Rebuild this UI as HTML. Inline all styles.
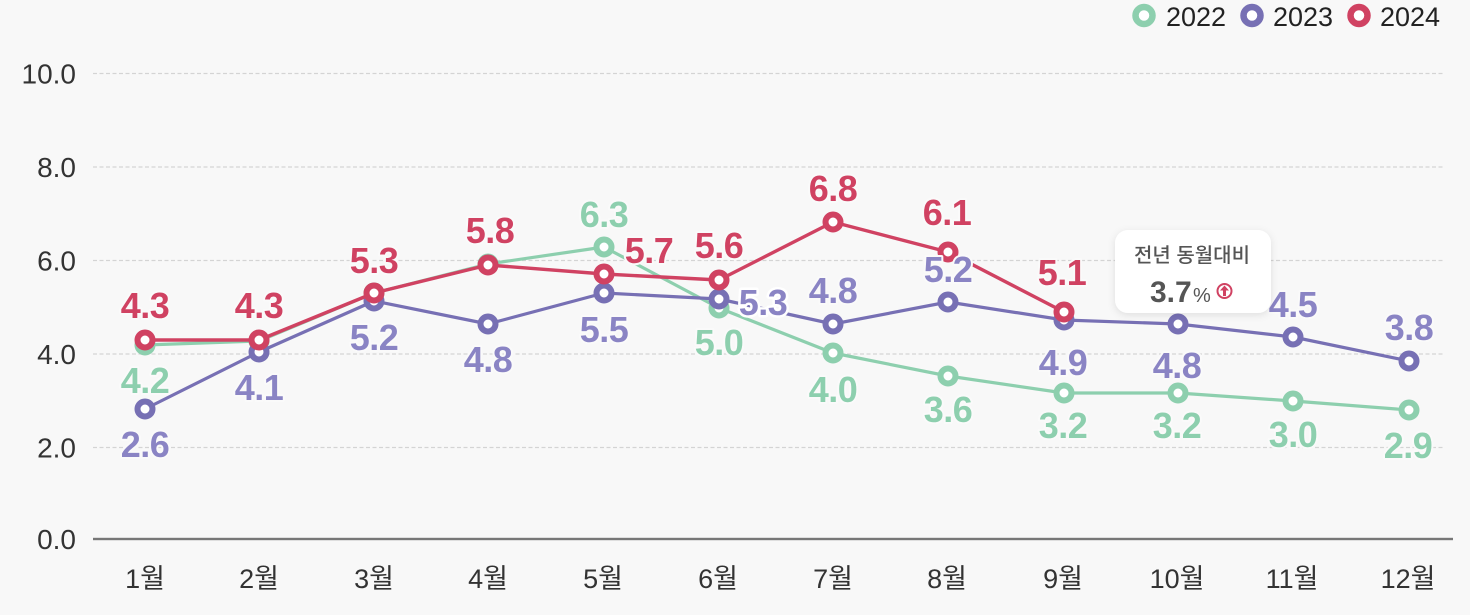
<!DOCTYPE html>
<html>
<head>
<meta charset="utf-8">
<style>
html,body{margin:0;padding:0;background:#f8f8f8;}
svg{display:block;}
.lbl{font-family:"Liberation Sans","Noto Sans CJK KR",sans-serif;font-weight:bold;font-size:36px;letter-spacing:-0.5px;text-anchor:middle;stroke:#fafafa;stroke-width:4px;paint-order:stroke fill;stroke-linejoin:round;}
.r{fill:#d04262;}
.p{fill:#8a84c4;}
.g{fill:#8dcfae;}
.ax{font-family:"Liberation Sans","Noto Sans CJK KR",sans-serif;fill:#333;}
</style>
</head>
<body>
<svg width="1470" height="615" viewBox="0 0 1470 615" xmlns="http://www.w3.org/2000/svg">
<defs>
<filter id="sh" x="-20%" y="-20%" width="140%" height="150%">
<feDropShadow dx="0" dy="2" stdDeviation="4" flood-color="#000" flood-opacity="0.10"/>
</filter>
</defs>
<rect width="1470" height="615" fill="#f8f8f8"/>

<!-- gridlines -->
<g stroke="#d4d4d4" stroke-width="1.2" stroke-dasharray="4 2.5">
<line x1="93" y1="73.5" x2="1443" y2="73.5"/>
<line x1="93" y1="167" x2="1443" y2="167"/>
<line x1="93" y1="260.5" x2="1443" y2="260.5"/>
<line x1="93" y1="354" x2="1443" y2="354"/>
<line x1="93" y1="447.5" x2="1443" y2="447.5"/>
</g>
<rect x="93" y="537.8" width="1360" height="2.4" fill="#777"/>

<!-- y labels -->
<g class="ax" font-size="28" text-anchor="end">
<text x="76" y="83.5">10.0</text>
<text x="76" y="177">8.0</text>
<text x="76" y="270.5">6.0</text>
<text x="76" y="364">4.0</text>
<text x="76" y="457.5">2.0</text>
<text x="76" y="549">0.0</text>
</g>

<!-- x labels -->
<g class="ax" font-size="27" text-anchor="middle">
<text x="145" y="588">1월</text>
<text x="259" y="588">2월</text>
<text x="374" y="588">3월</text>
<text x="488" y="588">4월</text>
<text x="603" y="588">5월</text>
<text x="718" y="588">6월</text>
<text x="833" y="588">7월</text>
<text x="947" y="588">8월</text>
<text x="1063" y="588">9월</text>
<text x="1177" y="588">10월</text>
<text x="1292" y="588">11월</text>
<text x="1408" y="588">12월</text>
</g>

<!-- 2022 green -->
<polyline fill="none" stroke="#8dcfae" stroke-width="3.2" stroke-linejoin="round"
 points="145,345 259,341 374,293 488,264 604,247 719,308 833,353 948,376 1064,393 1178,393 1293,401 1409,410"/>
<g fill="#fff" stroke="#8dcfae" stroke-width="6">
<circle cx="145" cy="345" r="7.5"/><circle cx="259" cy="341" r="7.5"/><circle cx="374" cy="293" r="7.5"/>
<circle cx="488" cy="264" r="7.5"/><circle cx="604" cy="247" r="7.5"/><circle cx="719" cy="308" r="7.5"/>
<circle cx="833" cy="353" r="7.5"/><circle cx="948" cy="376" r="7.5"/><circle cx="1064" cy="393" r="7.5"/>
<circle cx="1178" cy="393" r="7.5"/><circle cx="1293" cy="401" r="7.5"/><circle cx="1409" cy="410" r="7.5"/>
</g>

<!-- 2023 purple -->
<polyline fill="none" stroke="#7770b4" stroke-width="3.2" stroke-linejoin="round"
 points="145,409 259,352 374,301 488,324 604,293 719,299 833,324 948,302 1064,320 1178,324 1293,337 1409,361"/>
<g fill="#fff" stroke="#7770b4" stroke-width="6">
<circle cx="145" cy="409" r="7.5"/><circle cx="259" cy="352" r="7.5"/><circle cx="374" cy="301" r="7.5"/>
<circle cx="488" cy="324" r="7.5"/><circle cx="604" cy="293" r="7.5"/><circle cx="719" cy="299" r="7.5"/>
<circle cx="833" cy="324" r="7.5"/><circle cx="948" cy="302" r="7.5"/><circle cx="1064" cy="320" r="7.5"/>
<circle cx="1178" cy="324" r="7.5"/><circle cx="1293" cy="337" r="7.5"/><circle cx="1409" cy="361" r="7.5"/>
</g>

<!-- 2024 red -->
<polyline fill="none" stroke="#d04262" stroke-width="3.4" stroke-linejoin="round"
 points="145,340 259,340 374,293 488,265 604,274 719,280 833,222 948,252 1064,312"/>
<g fill="#fff" stroke="#d04262" stroke-width="6">
<circle cx="145" cy="340" r="7.5"/><circle cx="259" cy="340" r="7.5"/><circle cx="374" cy="293" r="7.5"/>
<circle cx="488" cy="265" r="7.5"/><circle cx="604" cy="274" r="7.5"/><circle cx="719" cy="280" r="7.5"/>
<circle cx="833" cy="222" r="7.5"/><circle cx="948" cy="252" r="7.5"/><circle cx="1064" cy="312" r="7.5"/>
</g>

<!-- green labels -->
<g class="lbl g">
<text x="145" y="393">4.2</text>
<text x="604" y="227">6.3</text>
<text x="719" y="355">5.0</text>
<text x="833" y="402">4.0</text>
<text x="948" y="422">3.6</text>
<text x="1063" y="438">3.2</text>
<text x="1177" y="438">3.2</text>
<text x="1293" y="447">3.0</text>
<text x="1408" y="458">2.9</text>
</g>
<!-- purple labels -->
<g class="lbl p">
<text x="145" y="457">2.6</text>
<text x="259" y="400">4.1</text>
<text x="374" y="350">5.2</text>
<text x="488" y="372">4.8</text>
<text x="604" y="342">5.5</text>
<text x="763" y="315" style="stroke:#fff;stroke-width:5px">5.3</text>
<text x="833" y="303">4.8</text>
<text x="948" y="282">5.2</text>
<text x="1063" y="375">4.9</text>
<text x="1177" y="378">4.8</text>
<text x="1293" y="317">4.5</text>
<text x="1409" y="340">3.8</text>
</g>
<!-- red labels -->
<g class="lbl r">
<text x="145" y="318">4.3</text>
<text x="259" y="318">4.3</text>
<text x="374" y="273">5.3</text>
<text x="490" y="243">5.8</text>
<text x="649" y="263">5.7</text>
<text x="719" y="258">5.6</text>
<text x="833" y="201">6.8</text>
<text x="947" y="225">6.1</text>
<text x="1062" y="285">5.1</text>
</g>

<!-- tooltip -->
<rect x="1115" y="230" width="156" height="83" rx="13" ry="13" fill="#fff" filter="url(#sh)"/>
<text x="1192" y="262" text-anchor="middle" font-family="'Liberation Sans','Noto Sans CJK KR',sans-serif" font-size="20" font-weight="500" fill="#555">전년 동월대비</text>
<text x="1150" y="302" font-family="'Liberation Sans',sans-serif" font-size="30" font-weight="bold" fill="#555">3.7</text>
<text x="1193" y="302" font-family="'Liberation Sans',sans-serif" font-size="20" fill="#555">%</text>
<circle cx="1224.5" cy="291" r="7" fill="#fff" stroke="#d04262" stroke-width="2"/>
<path d="M1224.5 285.5 L1220 290.5 L1223 290.5 L1223 296 L1226 296 L1226 290.5 L1229 290.5 Z" fill="#d04262"/>

<!-- legend -->
<g fill="#fff" stroke-width="6.5">
<circle cx="1144" cy="15.5" r="8.5" stroke="#8dcfae"/>
<circle cx="1252" cy="15.5" r="8.5" stroke="#7770b4"/>
<circle cx="1359" cy="15.5" r="8.5" stroke="#d04262"/>
</g>
<g font-family="'Liberation Sans',sans-serif" font-size="27" fill="#222">
<text x="1166" y="26">2022</text>
<text x="1273" y="26">2023</text>
<text x="1380" y="26">2024</text>
</g>
</svg>
</body>
</html>
